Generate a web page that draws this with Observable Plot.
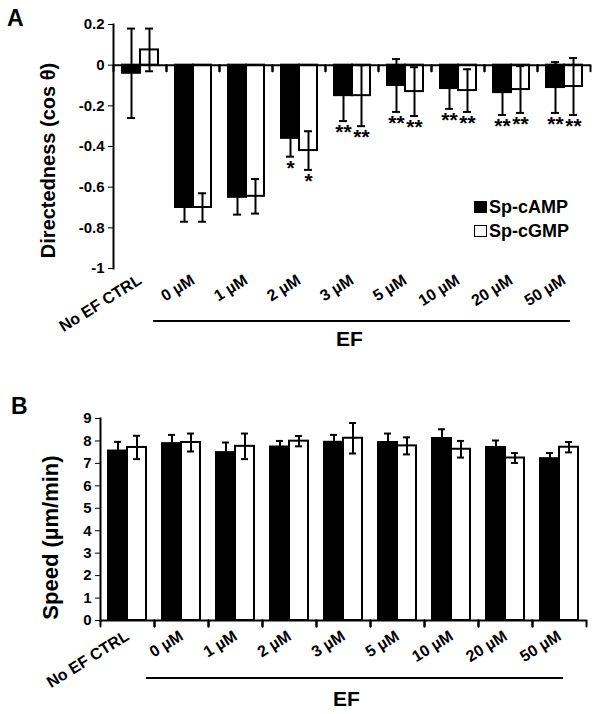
<!DOCTYPE html>
<html>
<head>
<meta charset="utf-8">
<script src="https://cdn.jsdelivr.net/npm/d3@7"></script>
<script src="https://cdn.jsdelivr.net/npm/@observablehq/plot@0.6"></script>
<style>
  html, body { margin: 0; padding: 0; background: #fff; }
  #root { position: relative; width: 601px; height: 714px; background: #fff; overflow: hidden;
          font-family: "Liberation Sans", Arial, sans-serif; font-weight: bold; color: #000; }
  #root svg { position: absolute; left: 0; }
  .abs { position: absolute; white-space: nowrap; line-height: 1; }
  .sw { position: absolute; width: 11px; height: 10px; border: 1.5px solid #000; }
  .bracket { position: absolute; height: 0; border-top: 2.5px solid #000; }
</style>
</head>
<body>
<div id="root"></div>
<script>
// ---------- data ----------
const groups = ["No EF CTRL", "0 µM", "1 µM", "2 µM", "3 µM", "5 µM", "10 µM", "20 µM", "50 µM"];
const series = ["Sp-cAMP", "Sp-cGMP"];

// Panel A: directedness (cos θ)
const dirCAMP    = [-0.04, -0.70, -0.65, -0.36, -0.15, -0.10, -0.115, -0.135, -0.11];
const dirCAMPErr = [0.22, 0.07, 0.085, 0.09, 0.125, 0.13, 0.10, 0.11, 0.125];
const dirCGMP    = [0.075, -0.70, -0.645, -0.42, -0.15, -0.13, -0.125, -0.12, -0.105];
const dirCGMPErr = [0.105, 0.07, 0.085, 0.095, 0.15, 0.12, 0.105, 0.115, 0.14];
const sigCAMP    = ["", "", "", "*", "**", "**", "**", "**", "**"];
const sigCGMP    = ["", "", "", "*", "**", "**", "**", "**", "**"];
const yTicksA    = [0.2, 0, -0.2, -0.4, -0.6, -0.8, -1];

// Panel B: speed (µm/min)
const speedCAMP    = [7.55, 7.88, 7.48, 7.73, 7.94, 7.93, 8.11, 7.71, 7.21];
const speedCAMPErr = [0.41, 0.39, 0.45, 0.27, 0.33, 0.40, 0.41, 0.31, 0.25];
const speedCGMP    = [7.71, 7.93, 7.76, 7.99, 8.12, 7.78, 7.63, 7.24, 7.72];
const speedCGMPErr = [0.52, 0.40, 0.57, 0.23, 0.68, 0.38, 0.37, 0.22, 0.23];
const yTicksB      = [0, 1, 2, 3, 4, 5, 6, 7, 8, 9];

const groupLabel = "EF";

// ---------- build tables ----------
function table(a, aErr, b, bErr, sa, sb) {
  const rows = [];
  groups.forEach((g, i) => {
    rows.push({group: g, series: series[0], value: a[i], err: aErr[i], sig: sa ? sa[i] : ""});
    rows.push({group: g, series: series[1], value: b[i], err: bErr[i], sig: sb ? sb[i] : ""});
  });
  return rows;
}
const dataA = table(dirCAMP, dirCAMPErr, dirCGMP, dirCGMPErr, sigCAMP, sigCGMP);
const dataB = table(speedCAMP, speedCAMPErr, speedCGMP, speedCGMPErr);

const tickShape = {draw(context, l) { context.moveTo(0, 0); context.lineTo(0, -l); }};
const font = "'Liberation Sans', Arial, sans-serif";

function panel(o) {
  const marks = [
    Plot.barY(o.data, {fx: "group", x: "series", y: "value", fill: "series", stroke: "#000", strokeWidth: 2}),
    Plot.ruleX(o.data, {fx: "group", x: "series", y1: d => d.value - d.err, y2: d => d.value + d.err, stroke: "#000", strokeWidth: 2}),
    Plot.tickY(o.data, {fx: "group", x: "series", y: d => d.value - d.err, stroke: "#000", strokeWidth: 2, insetLeft: o.capInset, insetRight: o.capInset}),
    Plot.tickY(o.data, {fx: "group", x: "series", y: d => d.value + d.err, stroke: "#000", strokeWidth: 2, insetLeft: o.capInset, insetRight: o.capInset}),
    Plot.ruleY([0], {stroke: "#000", strokeWidth: 2}),
    Plot.vector(groups, {fx: d => d, y: () => 0, frameAnchor: "left", anchor: "start", rotate: 180, length: 6, shape: tickShape, stroke: "#000", strokeWidth: 2}),
    Plot.vector(groups, {fx: d => d, y: () => 0, frameAnchor: "right", anchor: "start", rotate: 180, length: 6, shape: tickShape, stroke: "#000", strokeWidth: 2}),
    Plot.frame({anchor: "left", fx: () => groups[0], stroke: "#000", strokeWidth: 2}),
    Plot.axisY({ticks: o.yTicks, tickFormat: d => String(d), tickSize: 5, tickPadding: 4, fontSize: 15, label: null}),
    Plot.text([o.yLabel], {fx: () => groups[0], text: d => d, frameAnchor: "left", rotate: -90, dx: o.labelDx, dy: o.labelDy,
                           textAnchor: "middle", fontSize: o.labelSize, fontWeight: "bold", lineAnchor: "middle"}),
    Plot.axisFx({anchor: "bottom", tickRotate: -32, tickSize: 0, tickPadding: o.fxPad, fontSize: 16, label: null})
  ];
  if (o.sig) marks.push(Plot.text(o.data, {fx: "group", x: "series", y: d => d.value - d.err, text: "sig",
                                            dy: 3, lineAnchor: "top", fontSize: 21, fontWeight: "bold"}));
  return Plot.plot({
    width: 601, height: o.height,
    marginTop: o.marginTop, marginBottom: o.marginBottom, marginLeft: o.marginLeft, marginRight: o.marginRight,
    style: {fontFamily: font, fontWeight: "bold", color: "#000", background: "transparent", overflow: "visible"},
    fx: {domain: groups, padding: 0, label: null},
    x: {domain: series, paddingInner: 0, paddingOuter: o.padOuter, axis: null},
    y: {domain: o.yDomain, label: null},
    color: {domain: series, range: ["#000", "#fff"]},
    marks
  });
}

const root = document.getElementById("root");

const svgA = panel({
  data: dataA, height: 340, marginTop: 24, marginBottom: 72, marginLeft: 111, marginRight: 10,
  yDomain: [-1, 0.2], yTicks: yTicksA, yLabel: "Directedness (cos θ)", labelDx: -65, labelDy: 14, labelSize: 20,
  padOuter: 0.46, capInset: 5, fxPad: 10, sig: true
});
svgA.style.top = "0px";
root.appendChild(svgA);

const svgB = panel({
  data: dataB, height: 324, marginTop: 28, marginBottom: 94, marginLeft: 99, marginRight: 15,
  yDomain: [0, 9], yTicks: yTicksB, yLabel: "Speed (µm/min)", labelDx: -50, labelDy: 18, labelSize: 22,
  padOuter: 0.39, capInset: 6, fxPad: 14, sig: false
});
svgB.style.top = "390px";
root.appendChild(svgB);

function addDiv(cls, style, text) {
  const d = document.createElement("div");
  d.className = cls;
  Object.assign(d.style, style);
  if (text) d.textContent = text;
  root.appendChild(d);
  return d;
}
// panel letters
addDiv("abs", {left: "7px", top: "7px", fontSize: "23px"}, "A");
addDiv("abs", {left: "11px", top: "395px", fontSize: "23px"}, "B");
// legend
addDiv("sw", {left: "474px", top: "201px", background: "#000"});
addDiv("abs", {left: "489px", top: "198px", fontSize: "18px"}, series[0]);
addDiv("sw", {left: "474px", top: "225px", background: "#fff"});
addDiv("abs", {left: "489px", top: "222px", fontSize: "18px"}, series[1]);
// EF brackets
addDiv("bracket", {left: "153px", width: "417px", top: "320px"});
addDiv("abs", {left: "336px", top: "328px", fontSize: "21px"}, groupLabel);
addDiv("bracket", {left: "146px", width: "417px", top: "677px"});
addDiv("abs", {left: "333px", top: "688px", fontSize: "21px"}, groupLabel);
</script>
</body>
</html>
